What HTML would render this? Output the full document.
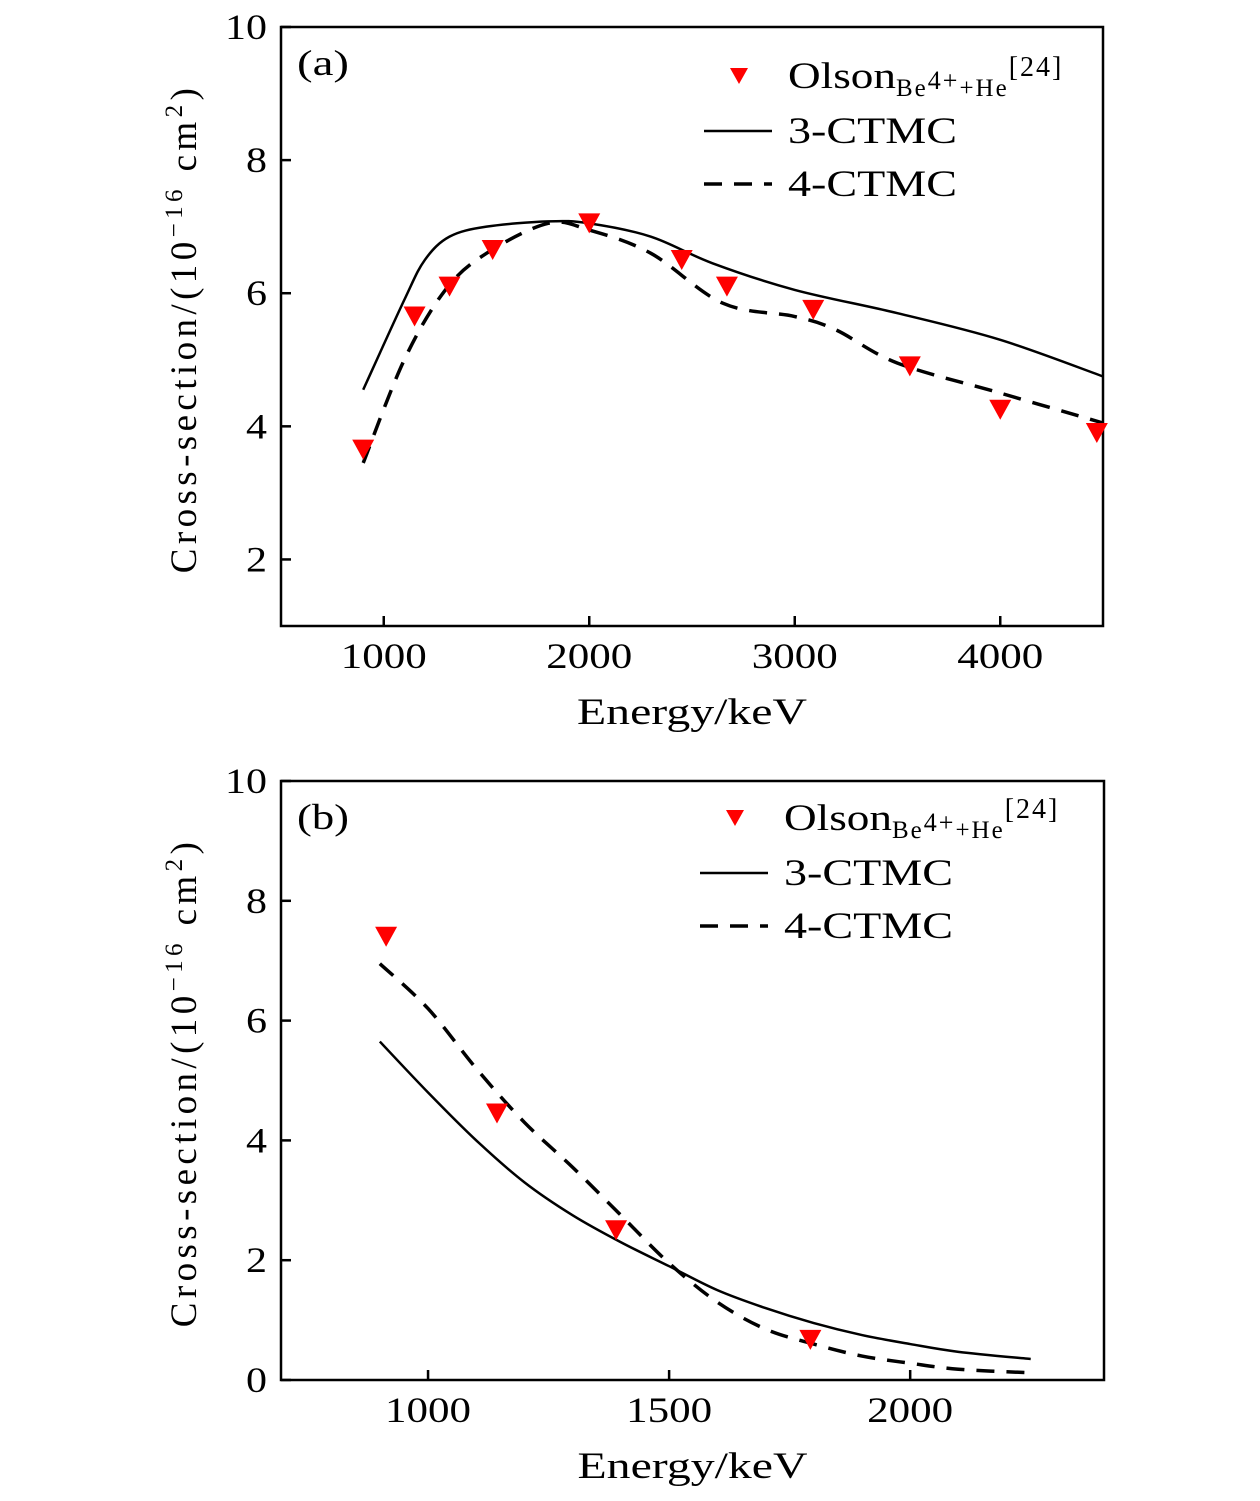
<!DOCTYPE html>
<html><head><meta charset="utf-8"><style>
body{margin:0;background:#fff}
svg text{font-family:"Liberation Serif",serif;fill:#000}
</style></head><body>
<svg id="chart" width="1260" height="1496" xmlns="http://www.w3.org/2000/svg"></svg>
<script>
// Panel (a) data
const aMarkX=[900,1150,1320,1530,2000,2450,2670,3090,3560,4000,4470];
const aMarkY=[3.65,5.65,6.1,6.65,7.05,6.5,6.1,5.75,4.9,4.25,3.9];
const a3X=[900,1100,1200,1320,1500,1800,2000,2300,2600,3000,3500,4000,4500];
const a3Y=[4.55,5.9,6.5,6.85,7.0,7.08,7.05,6.85,6.45,6.05,5.7,5.3,4.75];
const a4X=[900,1100,1300,1500,1800,2000,2300,2650,3000,3200,3500,4000,4500];
const a4Y=[3.45,5.0,6.05,6.6,7.05,6.95,6.6,5.85,5.65,5.45,4.95,4.5,4.05];
const aXTicks=[1000,2000,3000,4000];
const aYTicks=[2,4,6,8,10];
// Panel (b) data
const bMarkX=[913,1143,1390,1793];
const bMarkY=[7.4,4.45,2.5,0.67];
const b3X=[900,1000,1100,1200,1300,1400,1500,1600,1700,1800,1900,2000,2100,2250];
const b3Y=[5.65,4.8,4.0,3.3,2.75,2.3,1.9,1.5,1.2,0.95,0.75,0.6,0.47,0.35];
const b4X=[900,1000,1100,1200,1300,1400,1500,1600,1700,1800,1900,2000,2100,2250];
const b4Y=[6.95,6.2,5.2,4.3,3.55,2.75,1.95,1.3,0.85,0.6,0.4,0.28,0.18,0.12];
const bXTicks=[1000,1500,2000];
const bYTicks=[0,2,4,6,8,10];

const NS="http://www.w3.org/2000/svg";
const svg=document.getElementById('chart');
function mk(t,at,p){const e=document.createElementNS(NS,t);for(const k in at)e.setAttribute(k,at[k]);(p||svg).appendChild(e);return e;}
function smooth(pts){
  let d='M'+pts[0][0]+','+pts[0][1];
  for(let i=0;i<pts.length-1;i++){
    const p0=pts[i-1]||pts[i],p1=pts[i],p2=pts[i+1],p3=pts[i+2]||p2;
    const c1=[p1[0]+(p2[0]-p0[0])/6,p1[1]+(p2[1]-p0[1])/6];
    const c2=[p2[0]-(p3[0]-p1[0])/6,p2[1]-(p3[1]-p1[1])/6];
    d+=` C${c1[0]},${c1[1]} ${c2[0]},${c2[1]} ${p2[0]},${p2[1]}`;
  }
  return d;
}

function panel(o){
  const g=mk('g',{});
  
  
  const X=v=>o.L+(v-o.x0)/(o.x1-o.x0)*(o.R-o.L);
  const Y=v=>o.B-(v-o.y0)/(o.y1-o.y0)*(o.B-o.T);
  const box=mk('rect',{x:o.L,y:o.T,width:o.R-o.L,height:o.B-o.T,fill:'none',stroke:'#000','stroke-width':2.5},g);
  
  
  o.xt.forEach(v=>{
    const l=mk('line',{x1:X(v),x2:X(v),y1:o.B,y2:o.B-10,stroke:'#000','stroke-width':2.5},g);
    
    
    const t=mk('text',{x:X(v),y:o.B+42,'text-anchor':'middle','font-size':36,textLength:86,lengthAdjust:'spacingAndGlyphs'},g);t.textContent=v;
    
    
  });
  o.yt.forEach(v=>{
    const s=String(v).length;
    const t=mk('text',{x:o.L-14,y:Y(v)+12,'text-anchor':'end','font-size':36,textLength:s*21,lengthAdjust:'spacingAndGlyphs'},g);t.textContent=v;
    
    
    const l=mk('line',{x1:o.L,x2:o.L+10,y1:Y(v),y2:Y(v),stroke:'#000','stroke-width':2.5},g);
    
    
  });
  const xt=mk('text',{x:(o.L+o.R)/2,y:o.B+98,'text-anchor':'middle','font-size':37,textLength:230,lengthAdjust:'spacingAndGlyphs'},g);xt.textContent='Energy/keV';
  
  
  const cy=(o.T+o.B)/2+2;
  const yt=mk('text',{x:196,y:cy,'text-anchor':'middle','font-size':37,transform:`rotate(-90 196 ${cy})`,'letter-spacing':'4.4'},g);
  yt.innerHTML='Cross-section/(10<tspan dy="-14" font-size="25">−16</tspan><tspan dy="14"> cm</tspan><tspan dy="-14" font-size="25">2</tspan><tspan dy="14">)</tspan>';
  
  
  const lab=mk('text',{x:o.L+16,y:o.T+48,'font-size':36,textLength:52,lengthAdjust:'spacingAndGlyphs'},g);lab.textContent='('+o.id+')';
  
  
  const p3=mk('path',{d:smooth(o.s3x.map((v,i)=>[X(v),Y(o.s3y[i])])),fill:'none',stroke:'#000','stroke-width':2.5},g);
  
  
  const p4=mk('path',{d:smooth(o.s4x.map((v,i)=>[X(v),Y(o.s4y[i])])),fill:'none',stroke:'#000','stroke-width':3.5,'stroke-dasharray':'18 12'},g);
  
  
  o.mx.forEach((v,i)=>{
    const x=X(v),y=Y(o.my[i]);
    const m=mk('polygon',{points:`${x-11},${y-10} ${x+11},${y-10} ${x},${y+10}`,fill:'#f00'},g);
    
    
  });
  const lx=o.lx, ly=o.ly;
  const lm=mk('polygon',{points:`${lx+35-9},${ly-8} ${lx+35+9},${ly-8} ${lx+35},${ly+8}`,fill:'#f00'},g);
  
  
  const t1=mk('text',{x:lx+84,y:ly+12,'font-size':37},g);
  t1.innerHTML='<tspan textLength="108" lengthAdjust="spacingAndGlyphs">Olson</tspan><tspan dy="8" font-size="25" letter-spacing="2">Be</tspan><tspan dy="-7" font-size="26" letter-spacing="2">4+</tspan><tspan dy="7" font-size="25" letter-spacing="2">+He</tspan><tspan dy="-20" font-size="28" letter-spacing="2">[24]</tspan>';
  
  
  const l3=mk('line',{x1:lx,x2:lx+68,y1:ly+55,y2:ly+55,stroke:'#000','stroke-width':2.5},g);
  
  
  const t3=mk('text',{x:lx+84,y:ly+67,'font-size':37,textLength:169,lengthAdjust:'spacingAndGlyphs'},g);t3.textContent='3-CTMC';
  
  
  const l4=mk('line',{x1:lx,x2:lx+68,y1:ly+108,y2:ly+108,stroke:'#000','stroke-width':3.5,'stroke-dasharray':'18 12'},g);
  
  
  const t4=mk('text',{x:lx+84,y:ly+120,'font-size':37,textLength:169,lengthAdjust:'spacingAndGlyphs'},g);t4.textContent='4-CTMC';
  
  
}
panel({id:'a',L:281,R:1103,T:27,B:626,x0:500,x1:4500,y0:1,y1:10,xt:aXTicks,yt:aYTicks,
  s3x:a3X,s3y:a3Y,s4x:a4X,s4y:a4Y,mx:aMarkX,my:aMarkY,lx:704,ly:76});
panel({id:'b',L:281,R:1104,T:781,B:1380,x0:695,x1:2402,y0:0,y1:10,xt:bXTicks,yt:bYTicks,
  s3x:b3X,s3y:b3Y,s4x:b4X,s4y:b4Y,mx:bMarkX,my:bMarkY,lx:700,ly:818});
</script>
</body></html>
